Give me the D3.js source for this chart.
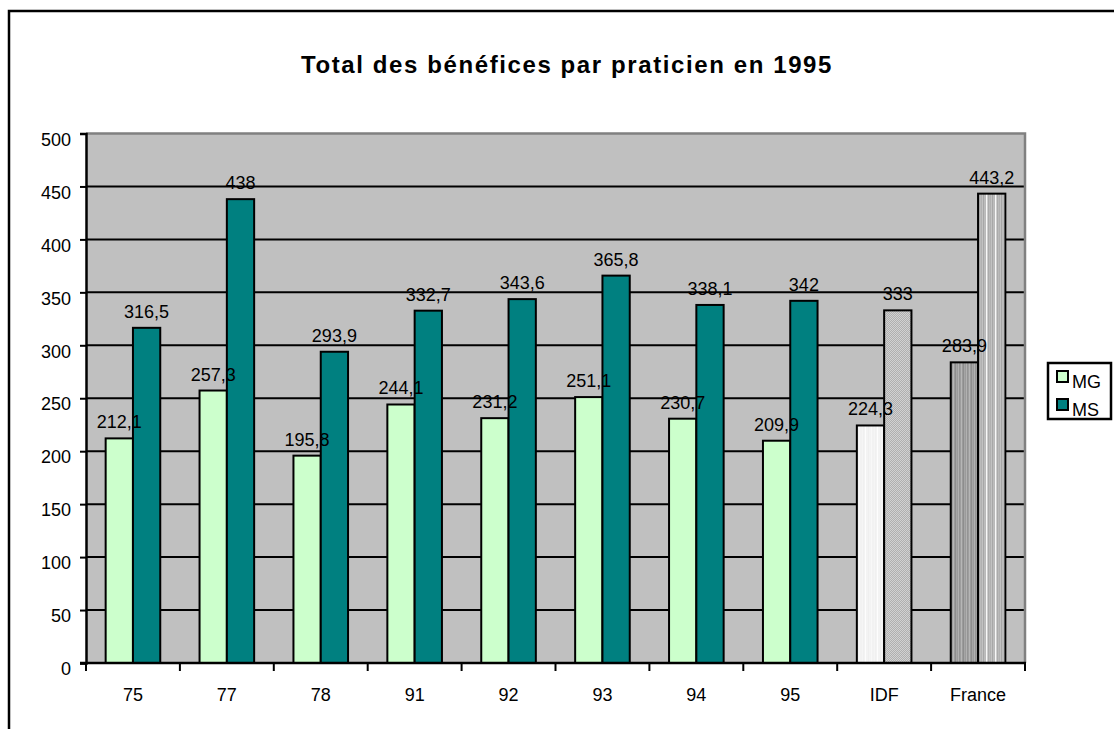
<!DOCTYPE html>
<html>
<head>
<meta charset="utf-8">
<script src="https://cdn.jsdelivr.net/npm/d3@7"></script>
<style>
  body { margin: 0; background: #fff; }
  svg { display: block; font-family: "Liberation Sans", Arial, sans-serif; }
</style>
</head>
<body>
<svg id="chart" width="1114" height="729"></svg>
<script>
const categories = ["75", "77", "78", "91", "92", "93", "94", "95", "IDF", "France"];
const seriesNames = ["MG", "MS"];
const mgValues = [212.1, 257.3, 195.8, 244.1, 231.2, 251.1, 230.7, 209.9, 224.3, 283.9];
const msValues = [316.5, 438, 293.9, 332.7, 343.6, 365.8, 338.1, 342, 333, 443.2];
const yTicks = [0, 50, 100, 150, 200, 250, 300, 350, 400, 450, 500];

const svg = d3.select("#chart");

// outer frame (runs off the right and bottom of the picture)
svg.append("rect")
  .attr("x", 9).attr("y", 11)
  .attr("width", 1200).attr("height", 800)
  .attr("fill", "none").attr("stroke", "#000").attr("stroke-width", 2.5);

// patterns for IDF and France bars
const defs = svg.append("defs");

function stripes(id, w, cols) {
  const p = defs.append("pattern").attr("id", id)
    .attr("patternUnits", "userSpaceOnUse")
    .attr("width", w).attr("height", 4);
  cols.forEach((c, i) => {
    p.append("rect").attr("x", i * w / cols.length).attr("y", 0)
      .attr("width", w / cols.length).attr("height", 4).attr("fill", c);
  });
}
stripes("idfMG", 12, ["#f2f2f2", "#f6f6f6", "#eeeeee", "#f4f4f4", "#ffffff", "#f0f0f0",
                      "#f4f4f4", "#eeeeee", "#f6f6f6", "#f2f2f2", "#fafafa", "#f0f0f0"]);
stripes("frMG", 8, ["#8c8c8c", "#a8a8a8", "#9a9a9a", "#b4b4b4", "#909090", "#a0a0a0", "#b8b8b8", "#989898"]);
stripes("frMS", 9, ["#b8b8b8", "#ffffff", "#c8c8c8", "#a8a8a8", "#bcbcbc", "#b0b0b0", "#c4c4c4", "#a4a4a4", "#c0c0c0"]);

const chk = defs.append("pattern").attr("id", "idfMS")
  .attr("patternUnits", "userSpaceOnUse").attr("width", 2).attr("height", 2);
chk.append("rect").attr("width", 2).attr("height", 2).attr("fill", "#dcdcdc");
chk.append("rect").attr("width", 1).attr("height", 1).attr("fill", "#a4a4a4");
chk.append("rect").attr("x", 1).attr("y", 1).attr("width", 1).attr("height", 1).attr("fill", "#a4a4a4");

const seriesColor = { MG: "#ccffcc", MS: "#008080" };
const specialFill = {
  IDF: { MG: "url(#idfMG)", MS: "url(#idfMS)" },
  France: { MG: "url(#frMG)", MS: "url(#frMS)" }
};

const plotL = 86, plotR = 1025, plotT = 133.5, plotB = 663;

const x = d3.scaleBand().domain(categories).range([plotL, plotR]);
const xs = d3.scaleBand().domain(seriesNames).range([0, x.bandwidth()])
  .paddingInner(0).paddingOuter(0.72);
const y = d3.scaleLinear().domain([0, 500]).range([plotB, plotT]);

// plot background
svg.append("rect")
  .attr("x", plotL).attr("y", plotT)
  .attr("width", plotR - plotL).attr("height", plotB - plotT)
  .attr("fill", "#c0c0c0");

// grid lines
svg.append("g").selectAll("line")
  .data(yTicks.filter(v => v > 0 && v < 500))
  .join("line")
  .attr("x1", plotL).attr("x2", plotR)
  .attr("y1", d => y(d)).attr("y2", d => y(d))
  .attr("stroke", "#000").attr("stroke-width", 2);

// top and right border
svg.append("path")
  .attr("d", `M${plotL},${plotT}H${plotR}V${plotB}`)
  .attr("fill", "none").attr("stroke", "#808080").attr("stroke-width", 2.5);

// bars
const rows = categories.map((c, i) => ({ cat: c, MG: mgValues[i], MS: msValues[i] }));
const groups = svg.append("g").selectAll("g")
  .data(rows)
  .join("g")
  .attr("transform", d => `translate(${x(d.cat)},0)`);

groups.selectAll("rect")
  .data(d => seriesNames.map(s => ({ cat: d.cat, s: s, v: d[s] })))
  .join("rect")
  .attr("x", d => xs(d.s))
  .attr("y", d => y(d.v))
  .attr("width", xs.bandwidth())
  .attr("height", d => y(0) - y(d.v))
  .attr("fill", d => specialFill[d.cat] ? specialFill[d.cat][d.s] : seriesColor[d.s])
  .attr("stroke", "#000").attr("stroke-width", 2);

// value labels
groups.selectAll("text")
  .data(d => seriesNames.map(s => ({ s: s, v: d[s] })))
  .join("text")
  .attr("x", d => xs(d.s) + xs.bandwidth() / 2)
  .attr("y", d => y(d.v) - 10)
  .attr("text-anchor", "middle")
  .attr("font-size", 18)
  .attr("fill", "#000")
  .text(d => String(d.v).replace(".", ","));

// y axis
const yAxis = svg.append("g")
  .attr("transform", `translate(${plotL},0)`)
  .call(d3.axisLeft(y).tickValues(yTicks).tickSize(6).tickPadding(9).tickFormat(d3.format("d")));
yAxis.select(".domain").attr("stroke", "#000").attr("stroke-width", 2.5);
yAxis.selectAll(".tick line").attr("stroke", "#000").attr("stroke-width", 2);
yAxis.selectAll("text")
  .attr("font-size", 18).attr("font-family", null).attr("fill", "#000")
  .attr("dy", "0.65em");

// x axis: labels at band centres, ticks at band edges
const xAxis = svg.append("g")
  .attr("transform", `translate(0,${plotB})`)
  .call(d3.axisBottom(x).tickSize(0).tickPadding(25));
xAxis.select(".domain").remove();
xAxis.selectAll("text").attr("font-size", 18).attr("font-family", null).attr("fill", "#000");

const edges = categories.map(c => x(c)).concat([plotR]);
svg.append("g").selectAll("line")
  .data(edges)
  .join("line")
  .attr("x1", d => d).attr("x2", d => d)
  .attr("y1", plotB).attr("y2", plotB + 8)
  .attr("stroke", "#000").attr("stroke-width", 2);
svg.append("line")
  .attr("x1", plotL - 6).attr("x2", plotR + 1)
  .attr("y1", plotB).attr("y2", plotB)
  .attr("stroke", "#000").attr("stroke-width", 2.5);

// title
svg.append("text")
  .attr("x", 567).attr("y", 73)
  .attr("text-anchor", "middle")
  .attr("font-size", 24).attr("font-weight", "bold")
  .attr("letter-spacing", 1.6)
  .text("Total des bénéfices par praticien en 1995");

// legend
const legend = svg.append("g");
legend.append("rect")
  .attr("x", 1048).attr("y", 363).attr("width", 63).attr("height", 56)
  .attr("fill", "#fff").attr("stroke", "#000").attr("stroke-width", 2.5);
const li = legend.selectAll("g.item")
  .data(seriesNames)
  .join("g").attr("class", "item")
  .attr("transform", (d, i) => `translate(1057,${371 + i * 28})`);
li.append("rect")
  .attr("width", 11).attr("height", 11)
  .attr("fill", d => seriesColor[d])
  .attr("stroke", "#000").attr("stroke-width", 2);
li.append("text")
  .attr("x", 15).attr("y", 17)
  .attr("font-size", 18)
  .text(d => d);
</script>
</body>
</html>
